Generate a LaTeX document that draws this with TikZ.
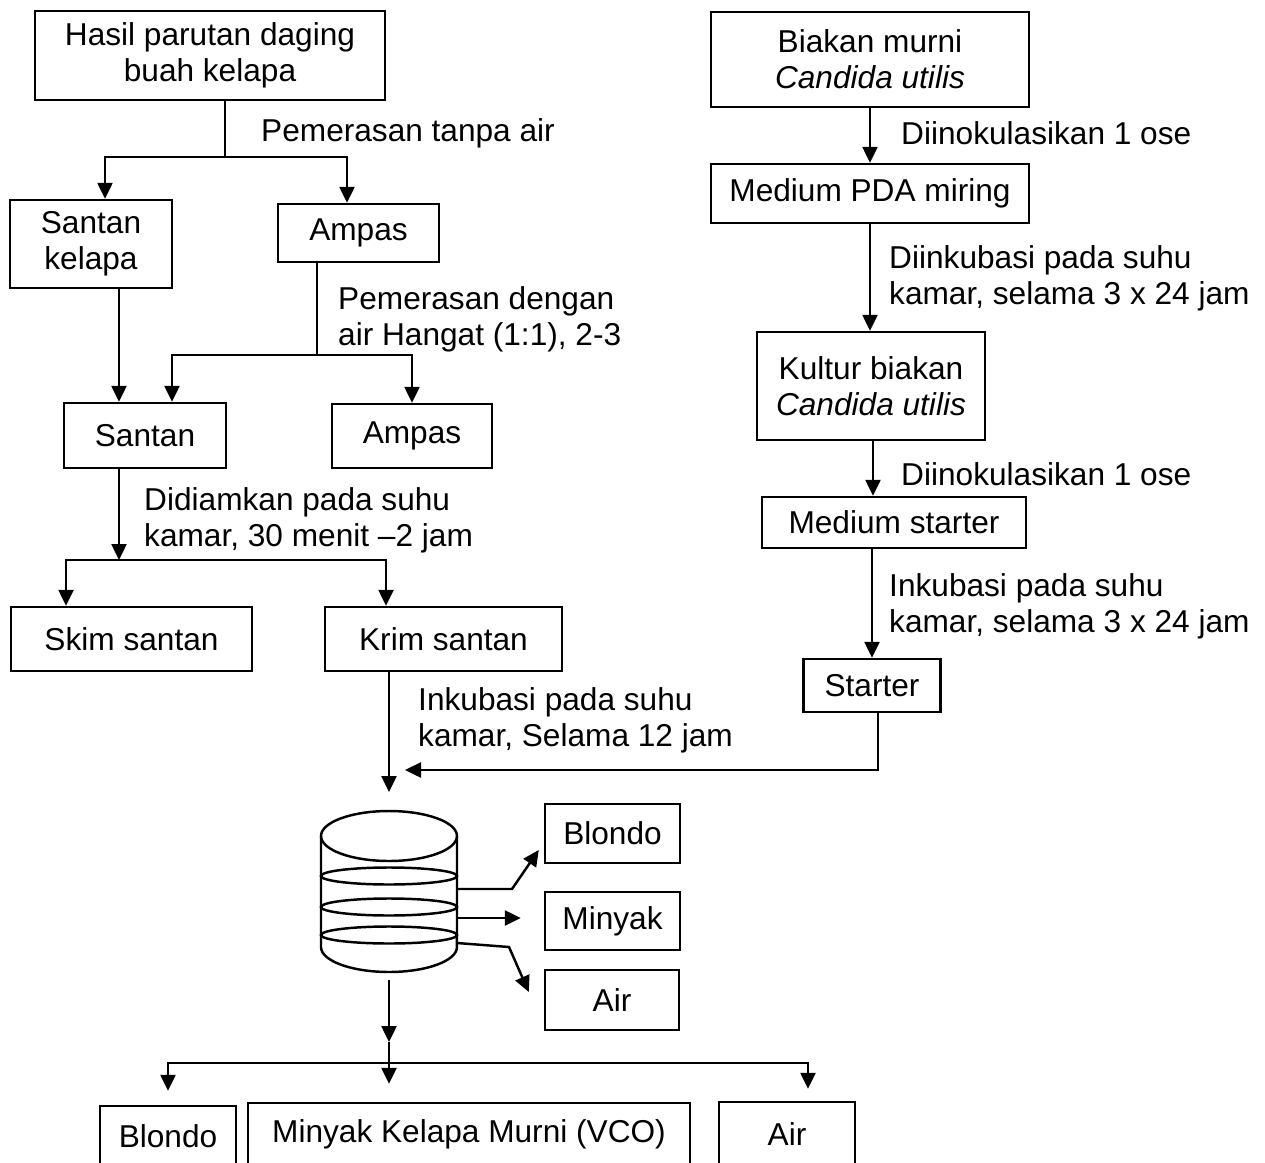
\documentclass[tikz,border=0pt]{standalone}
\usepackage{fontspec}
\setmainfont{Liberation Sans}
\usetikzlibrary{arrows.meta}
\tikzset{
  >={Triangle[length=0.32cm,width=0.3cm]},
  box/.style={draw, line width=1.4pt, inner sep=0pt, align=center},
  lbl/.style={anchor=west, inner sep=0pt, align=left},
}
\tikzstyle{every node}=[font=\fontsize{18}{20.5}\selectfont]

\begin{document}
\begin{tikzpicture}[x=0.02cm, y=-0.02cm, line width=1.4pt]
    \useasboundingbox (0,0) rectangle (1265,1163);
    \node[box, minimum width=7cm, minimum height=1.78cm] (hasil) at (210,55.5) {Hasil parutan daging\\buah kelapa};
    \node[box, minimum width=3.24cm, minimum height=1.76cm] (skelapa) at (91,244) {Santan\\kelapa};
    \node[box, minimum width=3.22cm, minimum height=1.16cm] (ampasA) at (358.5,233) {Ampas};
    \node[box, minimum width=3.24cm, minimum height=1.3cm] (santan) at (145,435.5) {Santan};
    \node[box, minimum width=3.2cm, minimum height=1.28cm] (ampasB) at (412,436) {Ampas};
    \node[box, minimum width=4.82cm, minimum height=1.28cm] (skim) at (131.5,639) {Skim santan};
    \node[box, minimum width=4.74cm, minimum height=1.28cm] (krim) at (443.5,639) {Krim santan};
    \node[box, minimum width=6.36cm, minimum height=1.9cm] (biakan) at (870,59.5) {Biakan murni\\\textit{Candida utilis}};
    \node[box, minimum width=6.36cm, minimum height=1.18cm] (pda) at (870,193.5) {Medium PDA miring};
    \node[box, minimum width=4.56cm, minimum height=2.16cm] (kultur) at (871,386) {Kultur biakan\\\textit{Candida utilis}};
    \node[box, minimum width=5.28cm, minimum height=1.02cm] (mstarter) at (894,522.5) {Medium starter};
    \node[box, minimum width=2.74cm, minimum height=1.06cm] (starter) at (872,685.5) {Starter};
    \node[box, minimum width=2.7cm, minimum height=1.18cm] (blondoA) at (612.5,833.5) {Blondo};
    \node[box, minimum width=2.7cm, minimum height=1.16cm] (minyakA) at (612.5,921) {Minyak};
    \node[box, minimum width=2.68cm, minimum height=1.2cm] (airA) at (612,1000) {Air};
    \node[box, minimum width=2.72cm, minimum height=1.2cm] (blondoB) at (168,1136) {Blondo};
    \node[box, minimum width=8.84cm, minimum height=1.26cm] (vco) at (469,1134.5) {Minyak Kelapa Murni (VCO)};
    \node[box, minimum width=2.72cm, minimum height=1.28cm] (airB) at (787,1134) {Air};

    \node[lbl] (lpress) at (260,133) {Pemerasan tanpa air};
    \node[lbl] (lwater) at (337,319) {Pemerasan dengan\\air Hangat (1:1), 2-3};
    \node[lbl] (lstill) at (143,520) {Didiamkan pada suhu\\kamar, 30 menit --2 jam};
    \node[lbl] (lferm) at (417,720) {Inkubasi pada suhu\\kamar, Selama 12 jam};
    \node[lbl] (linokA) at (900,133) {Diinokulasikan 1 ose};
    \node[lbl] (lincA) at (888,278) {Diinkubasi pada suhu\\kamar, selama 3 x 24 jam};
    \node[lbl] (linokB) at (900,474) {Diinokulasikan 1 ose};
    \node[lbl] (lincB) at (888,606) {Inkubasi pada suhu\\kamar, selama 3 x 24 jam};

    \draw (389,836) ellipse [x radius=1.36cm, y radius=0.5cm];
    \foreach \yy in {876,907,935}
      \draw (389,\yy) ellipse [x radius=1.36cm, y radius=0.17cm];
    \draw (321,836) -- (321,947) arc[start angle=180, end angle=360, x radius=1.36cm, y radius=0.5cm] -- (457,836);
    \coordinate (tanktop) at (389,811);
    \coordinate (tankbot) at (389,980);
    \coordinate (t1) at (457,889);
    \coordinate (t2) at (457,918);
    \coordinate (t3) at (457,943);

    \coordinate (s1) at (225,157);
    \draw (hasil.south -| s1) -- (s1);
    \draw[->] (s1) -| ([xshift=0.28cm]skelapa.north);
    \draw[->] (s1) -| ([xshift=-0.23cm]ampasA.north);
    \draw[->] ([xshift=0.56cm]skelapa.south) -- ([xshift=0.56cm]skelapa.south |- santan.north);
    \coordinate (s2) at (317,355);
    \draw (ampasA.south -| s2) -- (s2);
    \draw[->] (s2) -| ([xshift=0.54cm]santan.north);
    \draw[->] (s2) -| (ampasB.north);
    \coordinate (s3) at (119,560);
    \draw[->] (santan.south -| s3) -- (s3);
    \draw[->] (s3) -| ([xshift=-1.31cm]skim.north);
    \draw[->] (s3) -| ([xshift=-1.15cm]krim.north);
    \draw[->] (krim.south -| tanktop) -- ([yshift=0.38cm]tanktop);
    \coordinate (kin) at (405,770);
    \draw[->] ([xshift=0.12cm]starter.south) |- (kin);

    \draw[->] (biakan) -- (pda);
    \draw[->] (pda.south) -- (pda.south |- kultur.north);
    \draw[->] ([xshift=0.04cm]kultur.south) -- ([xshift=0.04cm]kultur.south |- mstarter.north);
    \draw[->] (mstarter.south -| starter.north) -- (starter.north);

    \draw[->] (t1) -- ++(55,0) -- ([xshift=-0.1cm,yshift=-0.33cm]blondoA.west);
    \draw[->, shorten >=0.46cm] (t2) -- (t2 -| minyakA.west);
    \draw[->] (t3) -- ++(52,4) -- ([xshift=-0.3cm,yshift=0.16cm]airA.west);

    \coordinate (s4) at (389,1063);
    \draw[->] (tankbot) -- ([yshift=0.42cm]s4);
    \draw ([yshift=0.42cm]s4) -- (s4);
    \draw[->, shorten >=0.36cm] (s4) -- (s4 |- vco.north);
    \draw[->, shorten >=0.28cm] (s4) -| (blondoB.north);
    \draw[->, shorten >=0.24cm] (s4) -| ([xshift=0.42cm]airB.north);
\end{tikzpicture}
\end{document}
